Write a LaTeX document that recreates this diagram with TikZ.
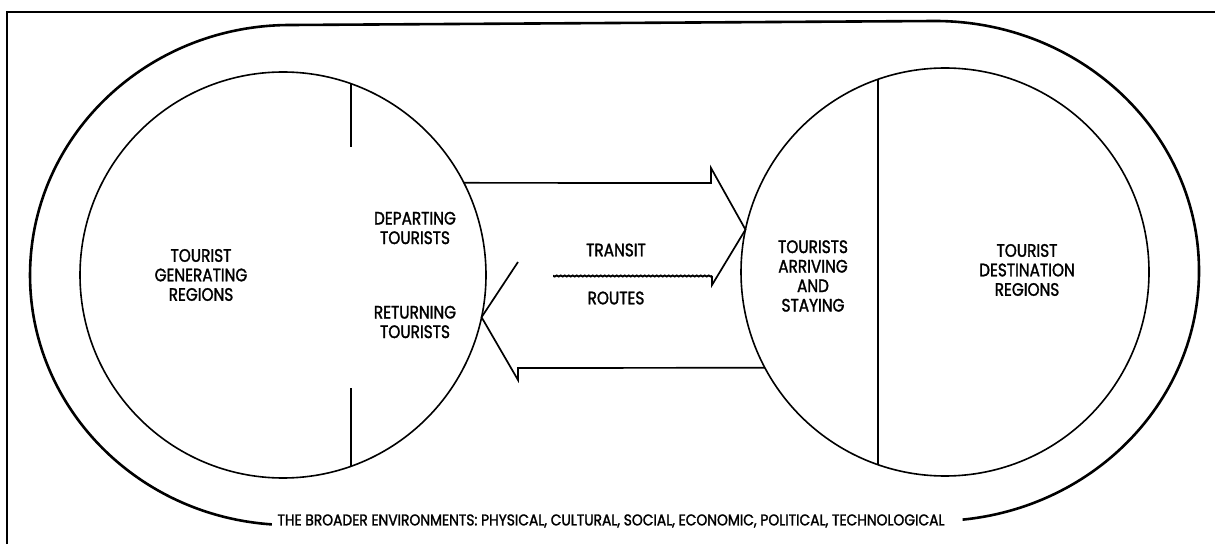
\documentclass[tikz,border=0pt]{standalone}
\usepackage{fontspec}
\usepackage{graphicx}
\newfontfamily\labfont{Poppins}[FakeStretch=0.85,FakeBold=1.6]
\usetikzlibrary{decorations.pathmorphing}
\begin{document}
\begin{tikzpicture}[x=1pt,y=1pt,
  region/.style={circle, draw, line width=1.6pt, inner sep=0pt, outer sep=0pt},
  lab/.style={font=\labfont\fontsize{18}{19.5}\selectfont, align=center, inner sep=0pt},
  flow/.style={line width=1.7pt, line join=miter},
  divider/.style={line width=1.4pt},
  env/.style={line width=2.6pt},
  frame/.style={line width=2pt}]
\useasboundingbox (0,0) rectangle (1215,544);
% frame
\draw[frame] (7,0) -- (7,532) -- (1215,532);
% broader environment loop
\coordinate (envstart) at (271.9,19.6);
\draw[env] (envstart) arc[start angle=266, end angle=90, x radius=260, y radius=250]
  -- (935,523) arc[start angle=90, end angle=-84, x radius=264, y radius=250];
\node[inner sep=0pt] (envtext) at (611,23)
  {\resizebox{667pt}{11pt}{\labfont THE BROADER ENVIRONMENTS: PHYSICAL, CULTURAL, SOCIAL, ECONOMIC, POLITICAL, TECHNOLOGICAL}};
% regions
\node[region, minimum size=406pt] (L) at (283,269) {};
\node[region, minimum size=408pt] (R) at (945,272) {};
% dividers
\draw[divider] (351,460.3) -- (351,397);
\draw[divider] (351,156) -- (351,77.7);
\draw[divider] (878,464.7) -- (878,79.3);
% departing arrow
\coordinate (dhead) at (711,361);
\coordinate (dlow) at (712,259);
\coordinate (dshaft) at (712,268);
\coordinate (dwave) at (553,268);
\draw[flow] (L.27) -- (dhead) -- (711,376) -- (R.168) -- (dlow) -- (dshaft);
\draw[flow, line width=2pt, decorate, decoration={snake, amplitude=0.5pt, segment length=4pt}] (dshaft) -- (dwave);
% returning arrow
\coordinate (rhead) at (518,176);
\coordinate (rup) at (518,282);
\draw[flow] (R.208) -- (rhead) -- (518,164) -- (L.-12.5) -- (rup);
% labels
\node[lab] (gen) at (201,269) {TOURIST\\GENERATING\\REGIONS};
\node[lab] (dep) at (415,316) {DEPARTING\\TOURISTS};
\node[lab] (ret) at (415,222) {RETURNING\\TOURISTS};
\node[lab] (transit) at (616,294) {TRANSIT};
\node[lab] (routes) at (616,246) {ROUTES};
\node[lab] (arr) at (813,268) {TOURISTS\\ARRIVING\\AND\\STAYING};
\node[lab] (dest) at (1027,274) {TOURIST\\DESTINATION\\REGIONS};
\end{tikzpicture}
\end{document}
